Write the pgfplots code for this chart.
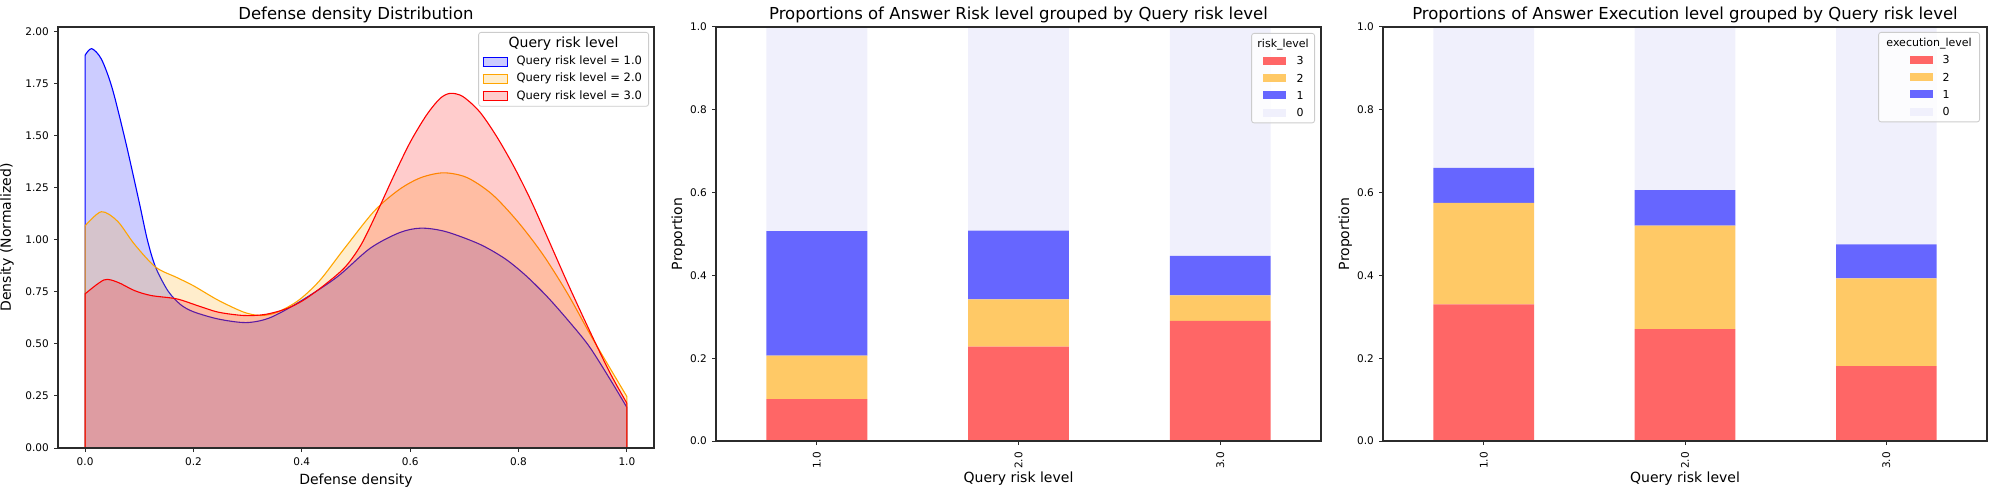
\documentclass[border=0pt]{standalone}
\usepackage{pgfplots}
\pgfplotsset{compat=1.18}
\usepackage{fontspec}
\setmainfont{DejaVu Sans}
\definecolor{cred}{HTML}{FF6666}
\definecolor{corange}{HTML}{FFC966}
\definecolor{cblue}{HTML}{6666FF}
\definecolor{clav}{HTML}{F0F0FC}
\definecolor{korange}{HTML}{FFA500}
\definecolor{spine}{HTML}{2B2B2B}
\setlength{\fboxsep}{0pt}
\setlength{\fboxrule}{1pt}
\newcommand{\kdebox}[1]{\raisebox{-1pt}{\fcolorbox{#1}{#1!20}{\rule{0pt}{8pt}\rule{23pt}{0pt}}}}
\newcommand{\barbox}[1]{\textcolor{#1}{\rule{0pt}{8pt}\rule{23pt}{8pt}}}
\pgfplotsset{
  base/.style={
    scale only axis, anchor=south west, axis on top,
    axis line style={spine, line width=1.1pt},
    tick align=outside, major tick length=4pt,
    tick style={spine, line width=1pt},
    tick pos=left,
    tick label style={font=\fontsize{10.5}{12}\selectfont, inner sep=0pt},
    label style={font=\fontsize{14}{16}\selectfont},
    title style={font=\fontsize{16.5}{19}\selectfont, at={(0.5,1)}, anchor=base, yshift=1.5pt},
    /pgf/number format/assume math mode=true,
  },
  legbase/.style={legend style={draw=black!20, line width=0.8pt, rounded corners=2.5pt,
      fill=white, fill opacity=0.8, draw opacity=1, text opacity=1,
      row sep=0pt, column sep=0pt, anchor=north east, at={(1,1)},
      nodes={inner sep=0pt, text height=12.65pt, text depth=4.65pt}},
      legend cell align=left,
      legend image code/.code={}},
}
\begin{document}
\begin{tikzpicture}
\path[use as bounding box] (0,0) rectangle (1994pt,493pt);

% ---------- Panel 1: KDE ----------
\begin{axis}[base, legbase, at={(58pt,45pt)}, width=596pt, height=421pt,
  xmin=-0.05, xmax=1.05, ymin=0, ymax=2.024,
  xtick={0,0.2,0.4,0.6,0.8,1}, xticklabels={0.0,0.2,0.4,0.6,0.8,1.0},
  ytick={0,0.25,0.5,0.75,1,1.25,1.5,1.75,2},
  yticklabels={0.00,0.25,0.50,0.75,1.00,1.25,1.50,1.75,2.00},
  xticklabel shift=6pt, yticklabel shift=5pt,
  x tick label style={anchor=north}, y tick label style={anchor=east},
  title={Defense density Distribution},
  xlabel={Defense density}, ylabel={Density (Normalized)},
  xlabel style={at={([yshift=-36pt]axis description cs:0.5,0)}, anchor=base},
  ylabel style={at={([xshift=-47pt]axis description cs:0,0.5)}, anchor=base},
  legend style={xshift=-5pt, yshift=-5pt, inner xsep=4pt, inner ysep=2.35pt,
    font=\fontsize{11.5}{13}\selectfont},
]
\addplot[forget plot, draw=blue, fill=blue, fill opacity=0.2, line width=1.1pt, smooth] coordinates {
(0,1.888) (0.012,1.92) (0.03,1.87) (0.05,1.73) (0.075,1.47) (0.1,1.18) (0.115,1.0) (0.13,0.87)
(0.153,0.755) (0.176,0.69) (0.2,0.655) (0.246,0.62) (0.297,0.603) (0.34,0.625) (0.394,0.70)
(0.464,0.82) (0.526,0.96) (0.58,1.035) (0.62,1.057) (0.666,1.04) (0.728,0.98) (0.775,0.91)
(0.813,0.83) (0.852,0.73) (0.891,0.615) (0.93,0.49) (0.969,0.33) (1.0,0.195)} \closedcycle;
\addplot[forget plot, draw=korange, fill=korange, fill opacity=0.2, line width=1.1pt, smooth] coordinates {
(0,1.068) (0.03,1.136) (0.06,1.09) (0.091,0.98) (0.13,0.87) (0.169,0.82) (0.2,0.78) (0.246,0.71)
(0.293,0.653) (0.324,0.637) (0.355,0.653) (0.394,0.71) (0.433,0.805) (0.48,0.964) (0.534,1.14)
(0.58,1.243) (0.62,1.30) (0.662,1.323) (0.705,1.30) (0.751,1.22) (0.798,1.09) (0.845,0.93)
(0.891,0.74) (0.938,0.52) (1.0,0.247)} \closedcycle;
\addplot[forget plot, draw=red, fill=red, fill opacity=0.2, line width=1.1pt, smooth] coordinates {
(0,0.741) (0.035,0.808) (0.06,0.797) (0.091,0.757) (0.122,0.733) (0.169,0.717) (0.207,0.685)
(0.246,0.653) (0.293,0.637) (0.332,0.642) (0.371,0.669) (0.402,0.709) (0.44,0.78) (0.48,0.87)
(0.51,0.98) (0.54,1.14) (0.57,1.31) (0.6,1.47) (0.63,1.6) (0.655,1.68) (0.674,1.705) (0.697,1.69)
(0.728,1.617) (0.759,1.50) (0.79,1.36) (0.821,1.20) (0.852,1.02) (0.891,0.79) (0.93,0.57)
(0.969,0.36) (1.0,0.215)} \closedcycle;
\addlegendimage{empty legend}
\addlegendentry{\makebox[162pt][c]{\fontsize{14}{16}\selectfont Query risk level}}
\addlegendimage{empty legend}
\addlegendentry{\kdebox{blue}\hspace{9pt}Query risk level = 1.0}
\addlegendimage{empty legend}
\addlegendentry{\kdebox{korange}\hspace{9pt}Query risk level = 2.0}
\addlegendimage{empty legend}
\addlegendentry{\kdebox{red}\hspace{9pt}Query risk level = 3.0}
\end{axis}

% ---------- Panel 2: Answer risk level ----------
\begin{axis}[base, legbase, at={(716pt,52pt)}, width=605pt, height=414pt,
  ybar stacked, bar width=0.5, xmin=-0.5, xmax=2.5, ymin=0, ymax=1,
  xtick={0,1,2}, xticklabels={1.0,2.0,3.0},
  ytick={0,0.2,0.4,0.6,0.8,1}, yticklabels={0.0,0.2,0.4,0.6,0.8,1.0},
  xticklabel shift=7pt, yticklabel shift=5pt,
  x tick label style={rotate=90, anchor=east}, y tick label style={anchor=east},
  title={Proportions of Answer Risk level grouped by Query risk level},
  xlabel={Query risk level}, ylabel={Proportion},
  xlabel style={at={([yshift=-41.5pt]axis description cs:0.5,0)}, anchor=base},
  ylabel style={at={([xshift=-34pt]axis description cs:0,0.5)}, anchor=base},
  legend style={xshift=-6pt, yshift=-6pt, inner xsep=3pt, inner ysep=1.5pt,
    font=\fontsize{11}{13}\selectfont},
]
\addplot[forget plot, fill=cred, draw=none] coordinates {(0,0.101) (1,0.228) (2,0.290)};
\addplot[forget plot, fill=corange, draw=none] coordinates {(0,0.105) (1,0.114) (2,0.062)};
\addplot[forget plot, fill=cblue, draw=none] coordinates {(0,0.301) (1,0.166) (2,0.095)};
\addplot[forget plot, fill=clav, draw=none] coordinates {(0,0.493) (1,0.492) (2,0.553)};
\addlegendimage{empty legend}
\addlegendentry{\makebox[57pt][c]{risk\_level}}
\addlegendimage{empty legend}
\addlegendentry{\hspace*{8pt}\barbox{cred}\hspace{11pt}3}
\addlegendimage{empty legend}
\addlegendentry{\hspace*{8pt}\barbox{corange}\hspace{11pt}2}
\addlegendimage{empty legend}
\addlegendentry{\hspace*{8pt}\barbox{cblue}\hspace{11pt}1}
\addlegendimage{empty legend}
\addlegendentry{\hspace*{8pt}\barbox{clav}\hspace{11pt}0}
\end{axis}

% ---------- Panel 3: Answer execution level ----------
\begin{axis}[base, legbase, at={(1383pt,52pt)}, width=604pt, height=414pt,
  ybar stacked, bar width=0.5, xmin=-0.5, xmax=2.5, ymin=0, ymax=1,
  xtick={0,1,2}, xticklabels={1.0,2.0,3.0},
  ytick={0,0.2,0.4,0.6,0.8,1}, yticklabels={0.0,0.2,0.4,0.6,0.8,1.0},
  xticklabel shift=7pt, yticklabel shift=5pt,
  x tick label style={rotate=90, anchor=east}, y tick label style={anchor=east},
  title={Proportions of Answer Execution level grouped by Query risk level},
  xlabel={Query risk level}, ylabel={Proportion},
  xlabel style={at={([yshift=-41.5pt]axis description cs:0.5,0)}, anchor=base},
  ylabel style={at={([xshift=-34pt]axis description cs:0,0.5)}, anchor=base},
  legend style={xshift=-7pt, yshift=-5pt, inner xsep=3pt, inner ysep=1.5pt,
    font=\fontsize{11}{13}\selectfont},
]
\addplot[forget plot, fill=cred, draw=none] coordinates {(0,0.330) (1,0.270) (2,0.181)};
\addplot[forget plot, fill=corange, draw=none] coordinates {(0,0.245) (1,0.250) (2,0.212)};
\addplot[forget plot, fill=cblue, draw=none] coordinates {(0,0.085) (1,0.086) (2,0.082)};
\addplot[forget plot, fill=clav, draw=none] coordinates {(0,0.340) (1,0.394) (2,0.525)};
\addlegendimage{empty legend}
\addlegendentry{\makebox[95pt][c]{execution\_level}}
\addlegendimage{empty legend}
\addlegendentry{\hspace*{28pt}\barbox{cred}\hspace{10pt}3}
\addlegendimage{empty legend}
\addlegendentry{\hspace*{28pt}\barbox{corange}\hspace{10pt}2}
\addlegendimage{empty legend}
\addlegendentry{\hspace*{28pt}\barbox{cblue}\hspace{10pt}1}
\addlegendimage{empty legend}
\addlegendentry{\hspace*{28pt}\barbox{clav}\hspace{10pt}0}
\end{axis}
\end{tikzpicture}
\end{document}
